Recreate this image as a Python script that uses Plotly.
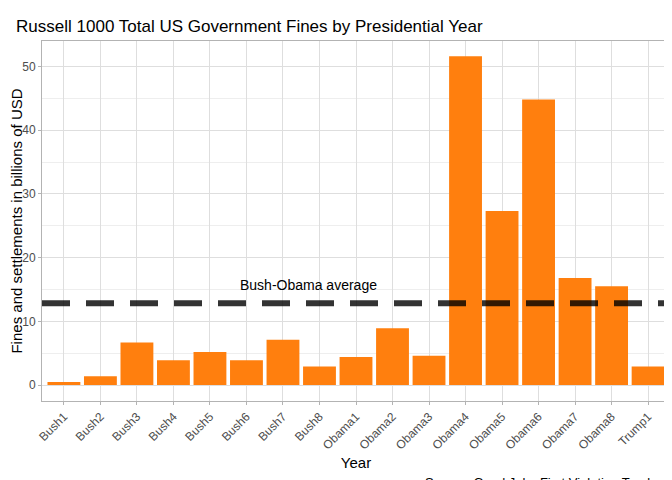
import plotly.graph_objects as go

years = ["Bush1", "Bush2", "Bush3", "Bush4", "Bush5", "Bush6", "Bush7", "Bush8",
         "Obama1", "Obama2", "Obama3", "Obama4", "Obama5", "Obama6", "Obama7", "Obama8", "Trump1"]
fines = [0.5, 1.4, 6.7, 3.9, 5.2, 3.9, 7.1, 2.9,
         4.4, 8.9, 4.6, 51.6, 27.3, 44.8, 16.8, 15.5, 2.9]
bush_obama_avg = 12.85

fig = go.Figure(go.Bar(x=years, y=fines, marker_color="#ff7f0e", marker_line_width=0, width=0.9))

fig.add_shape(type="line", xref="paper", x0=0.0, x1=1.0, yref="y", y0=bush_obama_avg, y1=bush_obama_avg,
              line=dict(color="rgba(0,0,0,0.8)", width=6, dash="28px,16px"))
fig.add_annotation(x=6.7, y=bush_obama_avg + 2.9, text="Bush-Obama average", showarrow=False,
                   font=dict(size=14, color="black"))
fig.add_annotation(x=1, y=-0.2, xref="paper", yref="paper", xanchor="right", yanchor="top",
                   text="Source: Good Jobs First Violation Tracker.", showarrow=False,
                   font=dict(size=13, color="black"))

fig.update_layout(
    width=672, height=480,
    margin=dict(l=34, r=10, t=33, b=87, autoexpand=False),
    plot_bgcolor="white", paper_bgcolor="white",
    font=dict(family="Liberation Sans, Arial, sans-serif", color="#4d4d4d"),
    title=dict(text="Russell 1000 Total US Government Fines by Presidential Year",
               x=0.012, xanchor="left", y=0.975, font=dict(size=17, color="black")),
    showlegend=False,
    bargap=0.1,
)
fig.update_xaxes(title=dict(text="Year", font=dict(size=15, color="black"), standoff=6),
                 tickangle=-45, tickfont=dict(size=12), showgrid=True, gridcolor="#dedede",
                 linecolor="#b3b3b3", mirror=True, showline=True, ticks="outside",
                 tickcolor="#b3b3b3", ticklen=3, range=[-0.6, 16.6])
fig.update_yaxes(title=dict(text="Fines and settlements in billions of USD", font=dict(size=15, color="black"), standoff=4),
                 range=[-2.5, 54], tickvals=[0, 10, 20, 30, 40, 50], tickfont=dict(size=12),
                 showgrid=True, gridcolor="#dedede", zeroline=False,
                 minor=dict(dtick=5, tick0=5, showgrid=True, gridcolor="#eeeeee"),
                 linecolor="#b3b3b3", mirror=True, showline=True, ticks="outside",
                 tickcolor="#b3b3b3", ticklen=3)

fig.write_html("out.html")
